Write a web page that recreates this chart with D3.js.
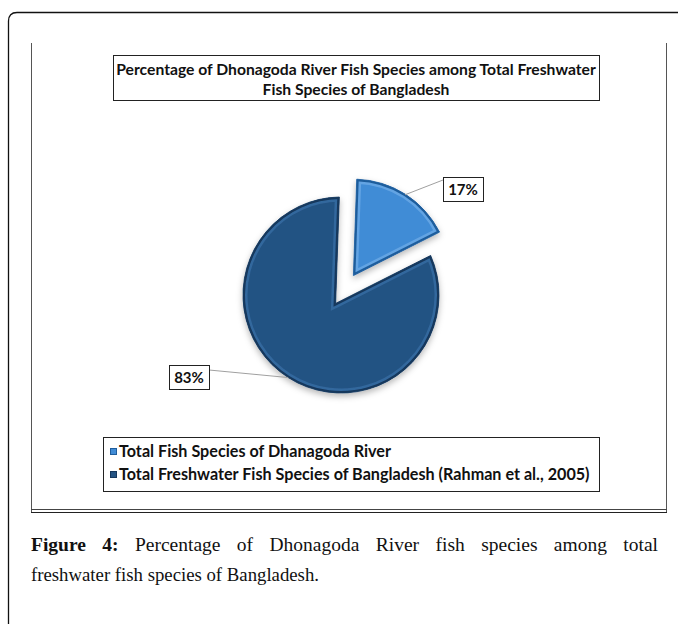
<!DOCTYPE html>
<html><head><meta charset="utf-8">
<script src="https://cdn.jsdelivr.net/npm/d3@7"></script>
<style>body{margin:0;background:#fff;overflow:hidden}</style>
</head><body><svg id="c" width="678" height="624"></svg>
<script>
// ---- data ----
const categories = ["Total Fish Species of Dhanagoda River", "Total Freshwater Fish Species of Bangladesh (Rahman et al., 2005)"];
const values = [17, 83];
const valueLabels = ["17%", "83%"];
const titleLines = ["Percentage of Dhonagoda River Fish Species among Total Freshwater", "Fish Species of Bangladesh"];
const captionBold = "Figure 4:";
const captionLine1 = "Percentage of Dhonagoda River fish species among total";
const captionLine2 = "freshwater fish species of Bangladesh.";

// ---- layout / style ----
const fills = ["#418cd6", "#245383"];
const rims = ["#7fb8ee", "#3f78b2"];
const edges = ["#1f5d9c", "#15375c"];
const C = {x: 341, y: 295}, R = 98;
const rot = 2 * Math.PI / 180;
const explode = [23, 10];
const labelOffsets = [{dx: 122, dy: -106}, {dx: -152, dy: 82}];
const sansFont = "Lato, 'Open Sans', sans-serif";
const serifFont = "'Liberation Serif', 'DejaVu Serif', serif";

const svg = d3.select("#c");
const defs = svg.append("defs");
const sh = defs.append("filter").attr("id", "shadow").attr("x", "-20%").attr("y", "-20%").attr("width", "140%").attr("height", "140%");
sh.append("feDropShadow").attr("dx", 0).attr("dy", 3).attr("stdDeviation", 3).attr("flood-color", "#000").attr("flood-opacity", 0.28);

// outer frame (rounded top-left)
svg.append("path")
  .attr("d", "M8.5,640 L8.5,21 Q8.5,12.5 17,12.5 L690,12.5")
  .attr("fill", "none").attr("stroke", "#111").attr("stroke-width", 1.3);

// inner chart frame
svg.append("line").attr("x1", 31.5).attr("x2", 31.5).attr("y1", 43).attr("y2", 512).attr("stroke", "#555").attr("stroke-width", 1);
svg.append("line").attr("x1", 666.5).attr("x2", 666.5).attr("y1", 43).attr("y2", 512).attr("stroke", "#555").attr("stroke-width", 1);
svg.append("line").attr("x1", 31).attr("x2", 667).attr("y1", 509.5).attr("y2", 509.5).attr("stroke", "#444").attr("stroke-width", 1);
svg.append("line").attr("x1", 31).attr("x2", 667).attr("y1", 512.5).attr("y2", 512.5).attr("stroke", "#222").attr("stroke-width", 1);

function fit(sel, target) {
  const fs = parseFloat(sel.attr("font-size"));
  const w = sel.node().getComputedTextLength();
  sel.attr("font-size", fs * target / w);
  return fs * target / w;
}

// title box
svg.append("rect").attr("x", 113.5).attr("y", 55.5).attr("width", 486).attr("height", 45)
  .attr("fill", "#fff").attr("stroke", "#222").attr("stroke-width", 1);
const t1 = svg.append("text").attr("x", 356).attr("y", 75).attr("text-anchor", "middle")
  .attr("font-family", sansFont).attr("font-weight", 700).attr("font-size", 13).attr("fill", "#111").text(titleLines[0]);
const tfs = fit(t1, 480);
svg.append("text").attr("x", 356).attr("y", 95).attr("text-anchor", "middle")
  .attr("font-family", sansFont).attr("font-weight", 700).attr("font-size", tfs).attr("fill", "#111").text(titleLines[1]);

// ---- pie ----
const pie = d3.pie().sort(null).startAngle(rot).endAngle(rot + 2 * Math.PI);
const arcsData = pie(values);
const polar = (a, r) => ({x: Math.sin(a) * r, y: -Math.cos(a) * r});

function rayCircle(V, a) {
  const u = polar(a, 1);
  const px = V.x - C.x, py = V.y - C.y;
  const b = px * u.x + py * u.y;
  const c = px * px + py * py - R * R;
  const t = -b + Math.sqrt(b * b - c);
  return {x: V.x + u.x * t, y: V.y + u.y * t};
}

const sliceGeo = arcsData.map((d, i) => {
  const mid = (d.startAngle + d.endAngle) / 2;
  const o = polar(mid, explode[i]);
  const V = {x: C.x + o.x, y: C.y + o.y};
  if (i === 0) {
    const a = d3.arc().innerRadius(0).outerRadius(R - 1.5);
    return {V, mid, d: a(d), translate: true};
  }
  const P0 = rayCircle(V, d.startAngle);
  const P1 = rayCircle(V, d.endAngle);
  const a0 = Math.atan2(P0.y - C.y, P0.x - C.x);
  let a1 = Math.atan2(P1.y - C.y, P1.x - C.x);
  while (a1 < a0) a1 += 2 * Math.PI;
  const p = d3.path();
  p.moveTo(V.x, V.y);
  p.lineTo(P0.x, P0.y);
  p.arc(C.x, C.y, R, a0, a1, false);
  p.closePath();
  return {V, mid, d: p.toString(), translate: false};
});

const pieG = svg.append("g").attr("filter", "url(#shadow)");
sliceGeo.forEach((s, i) => {
  const g = pieG.append("g").attr("transform", s.translate ? `translate(${s.V.x},${s.V.y})` : null);
  const cid = "clip" + i;
  defs.append("clipPath").attr("id", cid).append("path").attr("d", s.d);
  g.append("path").attr("d", s.d).attr("fill", fills[i]);
  const cg = g.append("g").attr("clip-path", `url(#${cid})`);
  cg.append("path").attr("d", s.d).attr("fill", "none").attr("stroke", rims[i]).attr("stroke-width", 9).attr("stroke-opacity", 0.55);
  cg.append("path").attr("d", s.d).attr("fill", "none").attr("stroke", edges[i]).attr("stroke-width", 4);
  g.append("path").attr("d", s.d).attr("fill", "none").attr("stroke", edges[i]).attr("stroke-width", 0.8).attr("stroke-linejoin", "round");
});

// ---- data labels with leader lines ----
valueLabels.forEach((lab, i) => {
  const s = sliceGeo[i];
  const cx = C.x + labelOffsets[i].dx, cy = C.y + labelOffsets[i].dy;
  const bw = 40, bh = 24;
  let start, end;
  if (i === 0) {
    const p = polar(s.mid, R - 2);
    start = {x: s.V.x + p.x, y: s.V.y + p.y};
    end = {x: cx - bw / 2, y: cy - bh / 2 + 3};
  } else {
    start = rayCircle(s.V, s.mid);
    end = {x: cx + bw / 2, y: cy - bh / 2 + 5};
  }
  svg.append("line").attr("x1", start.x).attr("y1", start.y).attr("x2", end.x).attr("y2", end.y)
    .attr("stroke", "#a0a0a0").attr("stroke-width", 1);
  svg.append("rect").attr("x", Math.round(cx - bw / 2) + 0.5).attr("y", Math.round(cy - bh / 2) + 0.5)
    .attr("width", bw).attr("height", bh).attr("fill", "#fff").attr("stroke", "#222").attr("stroke-width", 1);
  svg.append("text").attr("x", cx).attr("y", cy + 5.5).attr("text-anchor", "middle")
    .attr("font-family", sansFont).attr("font-weight", 700).attr("font-size", 15).attr("fill", "#111").text(lab);
});

// ---- legend ----
svg.append("rect").attr("x", 103.5).attr("y", 437.5).attr("width", 496).attr("height", 54)
  .attr("fill", "#fff").attr("stroke", "#222").attr("stroke-width", 1);
const legY = [452, 475];
categories.forEach((c, i) => {
  svg.append("rect").attr("x", 110.5).attr("y", legY[i] - 3.5).attr("width", 6).attr("height", 6)
    .attr("fill", fills[i]).attr("stroke", edges[i]).attr("stroke-width", 1);
});
const lt2 = svg.append("text").attr("x", 119).attr("y", legY[1] + 4.5)
  .attr("font-family", sansFont).attr("font-weight", 700).attr("font-size", 13).attr("fill", "#111").text(categories[1]);
const lfs = fit(lt2, 471);
svg.append("text").attr("x", 119).attr("y", legY[0] + 4.5)
  .attr("font-family", sansFont).attr("font-weight", 700).attr("font-size", lfs).attr("fill", "#111").text(categories[0]);

// ---- caption ----
const cfs = 19.5;
const c2 = svg.append("text").attr("x", 31).attr("y", 581)
  .attr("font-family", serifFont).attr("font-size", cfs).attr("fill", "#111").text(captionLine2);
const w2 = c2.node().getComputedTextLength();
if (Math.abs(w2 - 288) > 2) c2.attr("textLength", 288).attr("lengthAdjust", "spacingAndGlyphs");
const c1 = svg.append("text").attr("x", 31).attr("y", 551)
  .attr("font-family", serifFont).attr("font-size", cfs).attr("fill", "#111");
c1.append("tspan").attr("font-weight", 700).text(captionBold);
c1.append("tspan").text(" " + captionLine1);
const w1 = c1.node().getComputedTextLength();
const nSpaces = (captionBold + " " + captionLine1).split(" ").length - 1;
if (w1 < 627) c1.attr("word-spacing", (627 - w1) / nSpaces);
else c1.attr("textLength", 627).attr("lengthAdjust", "spacingAndGlyphs");
</script>
</body></html>
